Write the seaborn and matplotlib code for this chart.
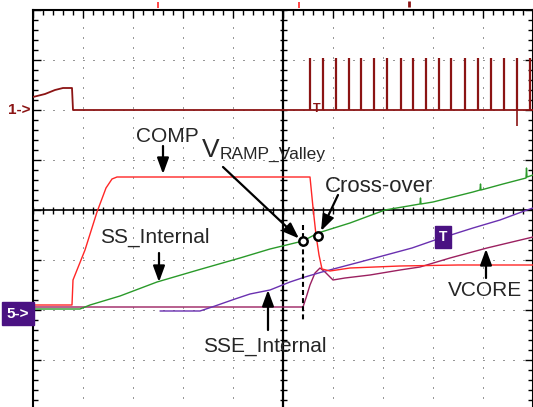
import numpy as np
import pandas as pd
import matplotlib
matplotlib.use("Agg")
import matplotlib.pyplot as plt
import seaborn as sns

# ekran osciloskopa: 10 x 8 podeoka, x i y u podeocima, centar je (5, 0)

# kanal 1 - switching cvor (tamno crveno)
ch1_x = [0.0, 0.24, 0.44, 0.60, 0.78, 0.80, 10.0]
ch1_y = [2.26, 2.32, 2.40, 2.44, 2.44, 2.00, 2.00]
impulsi_x = [5.53, 5.79, 6.05, 6.31, 6.56, 6.82, 7.07, 7.35, 7.59,
             7.85, 8.11, 8.37, 8.63, 8.89, 9.15, 9.41, 9.67, 9.93]
impuls_vrh = 3.04
impuls_dno = 2.00
propad_x = [9.67]
propad_y = [1.68]

# COMP (crveno)
comp_x = [0.0, 0.78, 0.80, 1.04, 1.28, 1.46, 1.58, 1.68, 3.0, 4.5, 5.54,
          5.60, 5.66, 5.72, 5.78, 5.94, 6.34, 7.34, 8.5, 10.0]
comp_y = [-1.90, -1.90, -1.40, -0.80, -0.04, 0.44, 0.62, 0.66, 0.66, 0.66, 0.66,
          0.05, -0.50, -0.90, -1.18, -1.22, -1.16, -1.12, -1.10, -1.10]

# SS_Internal (zeleno), sa sitnim smetnjama
ss_x = [0.0, 0.94, 1.14, 1.74, 2.48, 3.30, 4.14, 4.74, 5.40, 5.70, 6.34,
        7.04, 7.74, 7.75, 7.76, 8.00, 8.80, 8.94, 8.95, 8.96, 9.40,
        9.86, 9.87, 9.88, 10.0]
ss_y = [-1.98, -1.98, -1.90, -1.72, -1.44, -1.20, -0.96, -0.78, -0.62, -0.46, -0.26,
        0.00, 0.12, 0.24, 0.12, 0.16, 0.36, 0.40, 0.52, 0.40, 0.52,
        0.64, 0.84, 0.66, 0.70]

# SSE_Internal (ljubicasto)
sse_x = [2.54, 3.34, 3.64, 4.04, 4.34, 4.74, 5.14, 5.44, 5.78, 6.54,
         7.58, 8.04, 8.80, 9.34, 9.88, 10.0]
sse_y = [-2.02, -2.02, -1.92, -1.78, -1.68, -1.60, -1.44, -1.34, -1.24, -1.04,
         -0.76, -0.60, -0.36, -0.20, 0.00, 0.04]

# VCORE (bordo)
vcore_x = [0.0, 5.40, 5.46, 5.54, 5.64, 5.74, 5.84, 6.00, 6.24, 6.74,
           7.34, 7.74, 8.34, 9.08, 10.0]
vcore_y = [-1.94, -1.94, -1.76, -1.50, -1.26, -1.16, -1.24, -1.40, -1.36, -1.30,
           -1.20, -1.14, -0.96, -0.76, -0.54]

# tacke na grafiku
valley_tacka = (5.40, -0.62)
crossover_tacka = (5.70, -0.52)

boja_ch1 = "#8b1414"
boja_comp = "#ff2626"
boja_ss = "#2a9a2a"
boja_sse = "#6a30b0"
boja_vcore = "#9b2060"
boja_kutija = "#4a1282"

sns.set_theme(style="white")
plt.rcParams["font.family"] = ["Liberation Sans", "DejaVu Sans"]

fig = plt.figure(figsize=(5.33, 4.07), dpi=100)
ax = fig.add_axes([33 / 533, -3 / 407, 500 / 533, 400 / 407])
ax.set_xlim(0, 10)
ax.set_ylim(-4, 4)

# mreza i podeoci
ax.set_xticks(np.arange(0, 10.01, 1))
ax.set_yticks(np.arange(-4, 4.01, 1))
ax.set_xticks(np.arange(0, 10.01, 0.2), minor=True)
ax.set_yticks(np.arange(-4, 4.01, 0.2), minor=True)
ax.tick_params(which="both", direction="in", top=True, right=True, bottom=False, left=True,
               labelbottom=False, labelleft=False, color="black", width=1)
ax.tick_params(which="major", length=6)
ax.tick_params(which="minor", length=3.5)
ax.grid(which="major", linestyle=(0, (1, 9)), linewidth=0.72, color="#333333")
for s in ax.spines.values():
    s.set_color("black")
    s.set_linewidth(1.5)

# centralne ose sa podeocima
ax.axhline(0, color="black", lw=1.2, zorder=1)
ax.axvline(5, color="black", lw=1.6, zorder=1)
sitno_x = np.arange(0, 10.01, 0.2)
sitno_y = np.arange(-4, 4.01, 0.2)
ax.vlines(sitno_x, -0.07, 0.07, color="black", lw=1, zorder=1)
ax.hlines(sitno_y, 4.93, 5.07, color="black", lw=1, zorder=1)

# talasni oblici
def trag(xs, ys, boja, lw=1.0):
    df = pd.DataFrame({"x": xs, "y": ys})
    sns.lineplot(data=df, x="x", y="y", color=boja, lw=lw, estimator=None,
                 sort=False, legend=False, ax=ax, zorder=3)

trag(ch1_x, ch1_y, boja_ch1, 1.3)
ax.vlines(impulsi_x, impuls_dno, impuls_vrh, color=boja_ch1, lw=1.6, zorder=3)
ax.vlines(propad_x, propad_y, impuls_dno, color=boja_ch1, lw=1.2, zorder=3)
trag(vcore_x, vcore_y, boja_vcore)
trag(sse_x, sse_y, boja_sse)
trag(ss_x, ss_y, boja_ss)
trag(comp_x, comp_y, boja_comp)
ax.set_xlabel("")
ax.set_ylabel("")

# trigger oznaka kanala 1
ax.text(5.68, 2.15, "T", color=boja_ch1, fontsize=9, fontweight="bold",
        ha="center", va="top", zorder=4)

# isprekidana linija i kruzici
ax.plot([5.4, 5.4], [-0.30, -2.24], color="black", lw=1.5, ls=(0, (2.4, 1.5)), zorder=4)
for t in (valley_tacka, crossover_tacka):
    ax.plot(t[0], t[1], "o", ms=6, mfc="white", mec="black", mew=1.8, zorder=6)

# natpisi i strelice
strelica = dict(arrowstyle="-|>,head_length=0.6,head_width=0.22", color="black",
                lw=1.6, mutation_scale=16, shrinkA=0, shrinkB=0)
fs = 15

ax.text(2.68, 1.36, "COMP", fontsize=fs, ha="center", va="baseline", zorder=7)
ax.annotate("", xy=(2.6, 0.72), xytext=(2.6, 1.28), arrowprops=strelica, zorder=7)

ax.text(3.38, 1.07, "V", fontsize=19, ha="left", va="baseline", zorder=7)
ax.text(3.74, 1.03, "RAMP_Valley", fontsize=12.5, ha="left", va="baseline", zorder=7)
ax.annotate("", xy=(5.32, -0.57), xytext=(3.80, 0.86), arrowprops=strelica, zorder=7)

ax.text(5.84, 0.36, "Cross-over", fontsize=16, ha="left", va="baseline", zorder=7)
ax.annotate("", xy=(5.76, -0.42), xytext=(6.10, 0.30), arrowprops=strelica, zorder=7)

ax.text(1.34, -0.66, "SS_Internal", fontsize=fs, ha="left", va="baseline", zorder=7)
ax.annotate("", xy=(2.52, -1.44), xytext=(2.52, -0.86), arrowprops=strelica, zorder=7)

ax.text(3.40, -2.84, "SSE_Internal", fontsize=fs, ha="left", va="baseline", zorder=7)
ax.annotate("", xy=(4.70, -1.60), xytext=(4.70, -2.40), arrowprops=strelica, zorder=7)

ax.text(8.30, -1.72, "VCORE", fontsize=fs, ha="left", va="baseline", zorder=7)
ax.annotate("", xy=(9.06, -0.78), xytext=(9.06, -1.36), arrowprops=strelica, zorder=7)

# T kutija na SSE tragu
ax.text(8.20, -0.54, "T", color="white", fontsize=10, fontweight="bold", ha="center",
        va="center", zorder=8,
        bbox=dict(boxstyle="square,pad=0.3", facecolor=boja_kutija, edgecolor=boja_kutija))

# oznake kanala levo
ax.text(-0.50, 2.0, "1->", color=boja_ch1, fontsize=11, fontweight="bold",
        ha="left", va="center", clip_on=False)
ax.text(-0.30, -2.07, "5->", color="white", fontsize=11, fontweight="bold",
        ha="center", va="center", clip_on=False,
        bbox=dict(boxstyle="square,pad=0.3", facecolor=boja_kutija, edgecolor=boja_kutija))

# sitne oznake na vrhu ekrana
ax.plot([2.5, 5.32], [4.11, 4.11], "|", color=boja_comp, ms=4, mew=1.2, clip_on=False)
ax.plot([7.52], [4.12], "|", color=boja_ch1, ms=4, mew=2, clip_on=False)

plt.savefig("out.png", dpi=100)
